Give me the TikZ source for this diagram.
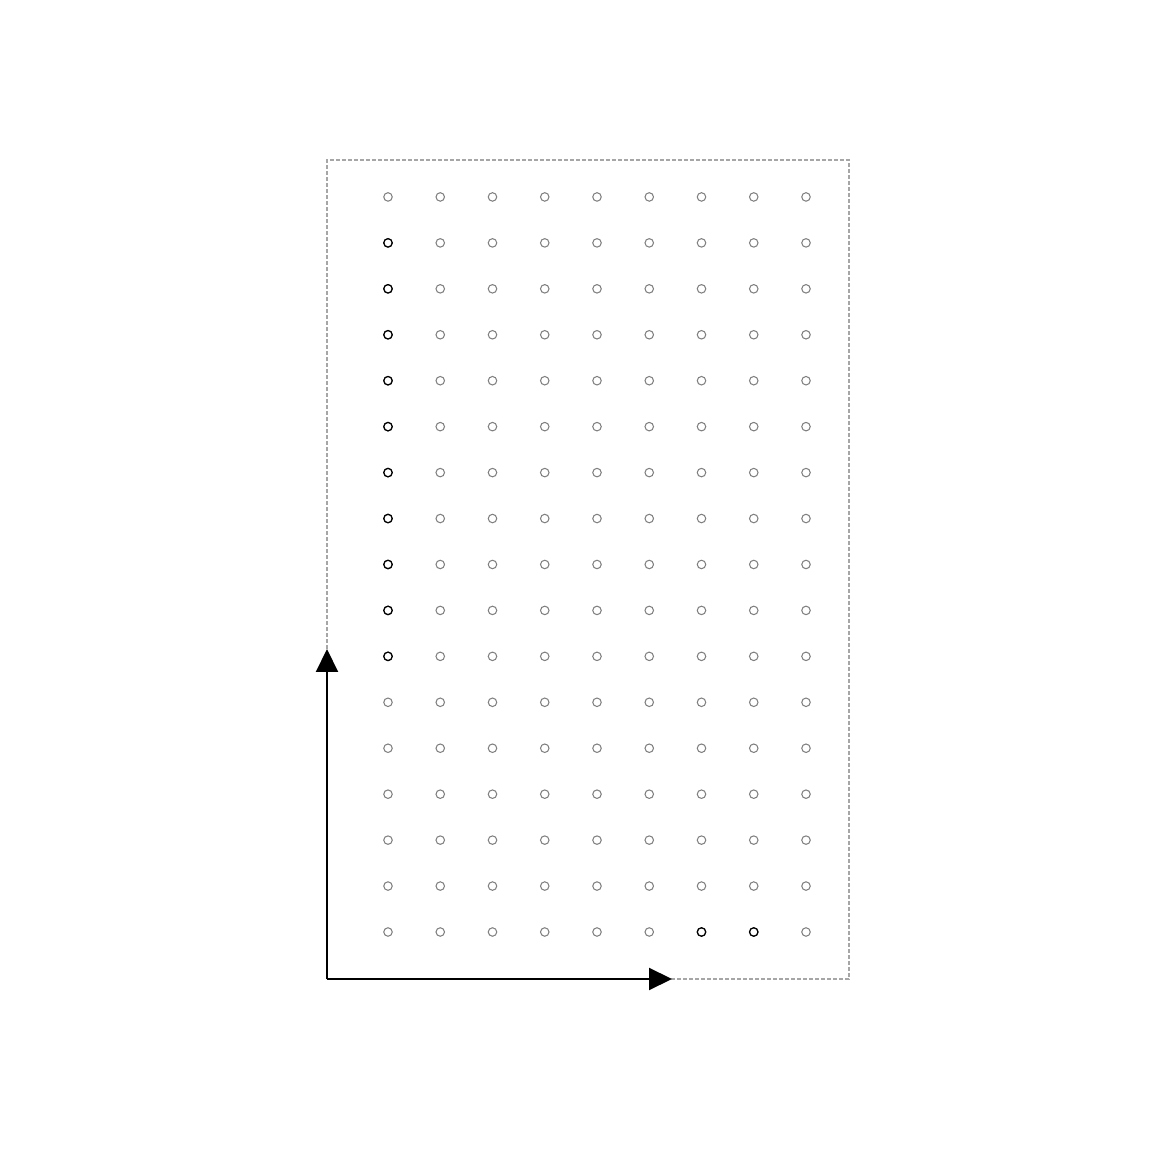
\documentclass[tikz,border=0pt]{standalone}
\usetikzlibrary{arrows.meta}

\tikzset{
  pin/.style={circle, draw=gray, line width=0.3pt, minimum size=0.85mm, inner sep=0pt},
  pinon/.style={pin, draw=black, line width=0.35pt},
  frame/.style={gray!70, line width=0.3pt, dash pattern=on 0.4mm off 0.2mm},
  axis/.style={-{Triangle[length=2.3mm, width=2.2mm]}, line width=0.6pt}
}

\begin{document}
\begin{tikzpicture}[x=0.1mm, y=0.1mm]
\useasboundingbox (-327,-172) rectangle (824,979);

\draw[frame](0,0) rectangle (522,819);

\foreach \i in {0,...,8}
{
  \foreach \j in {0,...,16}
  {
    \node[pin] (p\i-\j) at (61+52.25*\i, 47+45.94*\j) {};
  }
}
% highlighted pins
\foreach \j in {6,...,15}
{
  \node[pinon] at (p0-\j) {};
}
\node[pinon] at (p6-0) {};
\node[pinon] at (p7-0) {};

\coordinate (o) at (0,0);
\coordinate (ytip) at (0,330);
\coordinate (xtip) at (345,0);
\draw[axis](o)--(ytip);
\draw[axis](o)--(xtip);

\end{tikzpicture}
\end{document}
